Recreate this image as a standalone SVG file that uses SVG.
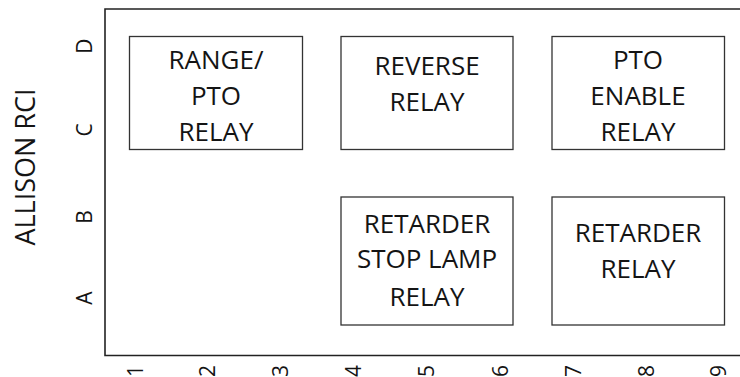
<svg xmlns="http://www.w3.org/2000/svg" width="740" height="377" viewBox="0 0 740 377">
<style>
.frame{fill:none;stroke:#222;stroke-width:1.6}
.box{fill:#fff;stroke:#333;stroke-width:1.3}
.lbl{font-family:"Open Sans","Liberation Sans",sans-serif;font-size:26px;fill:#141414;text-anchor:middle}
.ax{font-family:"Open Sans","Liberation Sans",sans-serif;font-size:21px;fill:#141414;text-anchor:middle;dominant-baseline:central}
.title{font-family:"Open Sans","Liberation Sans",sans-serif;font-size:27px;fill:#141414;text-anchor:middle;dominant-baseline:central}
</style>
<rect width="740" height="377" fill="#fff"/>
<g id="frame">
<path class="frame" d="M760,9 H105 V355.5 H760"/>
</g>
<g id="title"><text class="title" transform="translate(24,167) rotate(-90)">ALLISON RCI</text></g>
<g id="rows">
<text class="ax" transform="translate(84,46) rotate(-90)">D</text>
<text class="ax" transform="translate(84,130) rotate(-90)">C</text>
<text class="ax" transform="translate(84,217) rotate(-90)">B</text>
<text class="ax" transform="translate(84,298) rotate(-90)">A</text>
</g>
<g id="cols">
<text class="ax" transform="translate(135,371) rotate(-90)">1</text>
<text class="ax" transform="translate(207,371) rotate(-90)">2</text>
<text class="ax" transform="translate(280,371) rotate(-90)">3</text>
<text class="ax" transform="translate(353,371) rotate(-90)">4</text>
<text class="ax" transform="translate(426,371) rotate(-90)">5</text>
<text class="ax" transform="translate(500,371) rotate(-90)">6</text>
<text class="ax" transform="translate(573,371) rotate(-90)">7</text>
<text class="ax" transform="translate(646,371) rotate(-90)">8</text>
<text class="ax" transform="translate(718,371) rotate(-90)">9</text>
</g>
<g id="range-pto-relay">
<rect class="box" x="129.5" y="36.5" width="173" height="113"/>
<text class="lbl" x="216" y="69">RANGE/</text>
<text class="lbl" x="216" y="105">PTO</text>
<text class="lbl" x="216" y="141">RELAY</text>
</g>
<g id="reverse-relay">
<rect class="box" x="341" y="36.5" width="172" height="113"/>
<text class="lbl" x="427" y="75">REVERSE</text>
<text class="lbl" x="427" y="111">RELAY</text>
</g>
<g id="pto-enable-relay">
<rect class="box" x="552" y="36.5" width="172.5" height="113"/>
<text class="lbl" x="638" y="69">PTO</text>
<text class="lbl" x="638" y="105">ENABLE</text>
<text class="lbl" x="638" y="141">RELAY</text>
</g>
<g id="retarder-stop-lamp-relay">
<rect class="box" x="341" y="197" width="172" height="128"/>
<text class="lbl" x="427" y="233">RETARDER</text>
<text class="lbl" x="427" y="268">STOP LAMP</text>
<text class="lbl" x="427" y="306">RELAY</text>
</g>
<g id="retarder-relay">
<rect class="box" x="552" y="197" width="172.5" height="128"/>
<text class="lbl" x="638" y="242">RETARDER</text>
<text class="lbl" x="638" y="278">RELAY</text>
</g>
</svg>
